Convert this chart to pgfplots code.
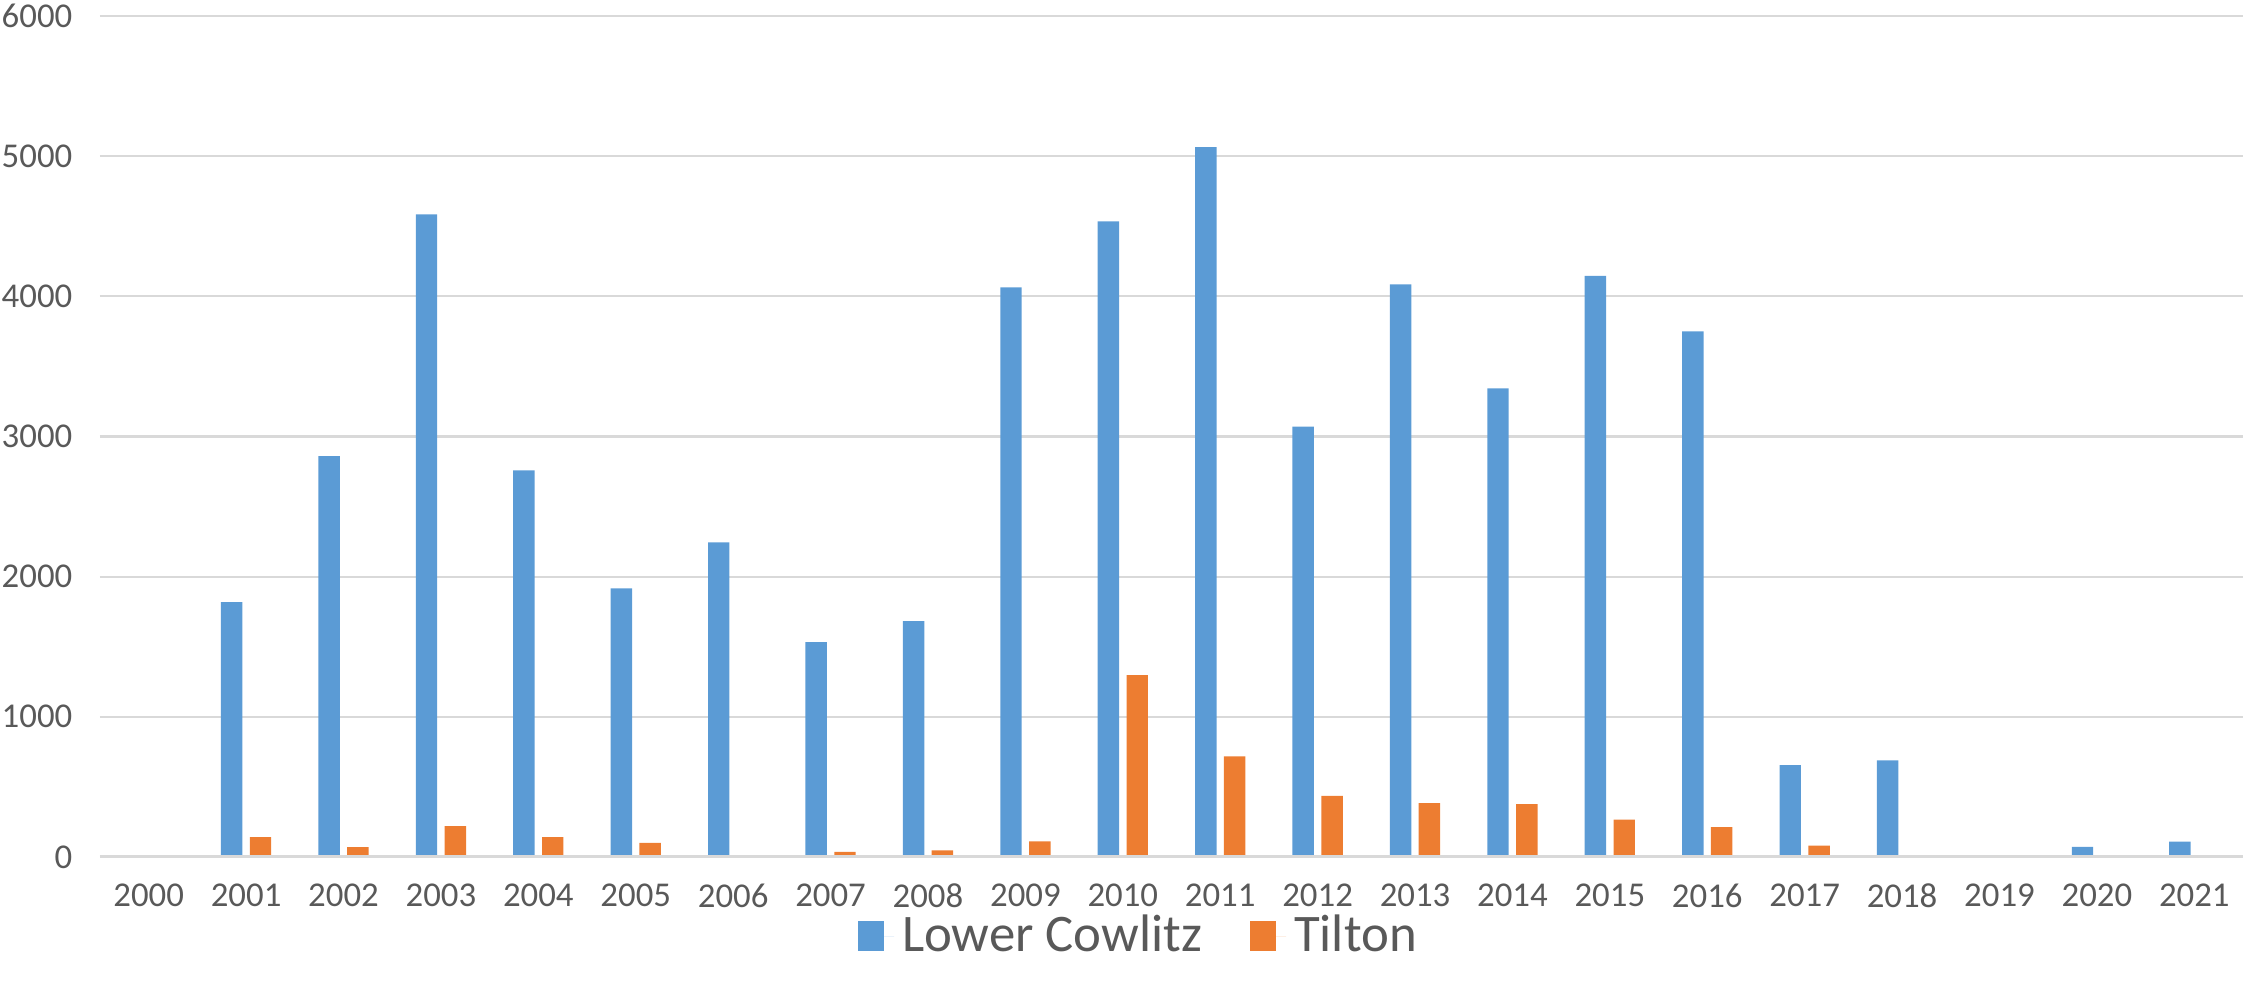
\documentclass[border=0pt]{standalone}
\usepackage{fontspec}
\setmainfont{Carlito}
\usepackage{pgfplots}
\usepackage{pgfplotstable}
\pgfplotsset{compat=1.18}

\definecolor{lcblue}{HTML}{5B9BD5}
\definecolor{tiorange}{HTML}{ED7D31}
\definecolor{gridgray}{HTML}{D9D9D9}
\definecolor{textgray}{HTML}{595959}

% year index, Lower Cowlitz, Tilton
\pgfplotstableread{
x  year lower tilton
0  2000 0    8
1  2001 1818 142
2  2002 2860 71
3  2003 4583 221
4  2004 2758 142
5  2005 1917 100
6  2006 2245 0
7  2007 1532 36
8  2008 1682 48
9  2009 4063 112
10 2010 4533 1297
11 2011 5063 718
12 2012 3070 437
13 2013 4084 385
14 2014 3343 378
15 2015 4146 266
16 2016 3749 214
17 2017 656  81
18 2018 689  5
19 2019 10   8
20 2020 73   0
21 2021 109  0
}\counts

\begin{document}
\begin{tikzpicture}
\useasboundingbox (-25pt,-35.75pt) rectangle (536.75pt,214.25pt);
\begin{axis}[
    at={(0,0)}, anchor=south west,
    scale only axis,
    width=535.75pt, height=210.3pt,
    ybar, bar width=0.22,
    xmin=-0.5, xmax=21.5,
    ymin=0, ymax=6000,
    xtick=data,
    xticklabels={2000,2001,2002,2003,2004,2005,2006,2007,2008,2009,2010,
      2011,2012,2013,2014,2015,2016,2017,2018,2019,2020,2021},
    ytick={0,1000,...,6000},
    axis line style={draw=none},
    xtick pos=bottom, ytick pos=left,
    ymajorgrids, grid style={gridgray, line width=0.55pt},
    major tick length=0pt,
    tick label style={font=\fontsize{8.7}{10}\selectfont, text=textgray},
    /pgf/number format/assume math mode=true,
    /pgf/number format/1000 sep={},
    yticklabel style={xshift=-3.4pt},
    xticklabel style={yshift=-3.2pt, text depth=0pt},
    legend columns=2,
    legend style={draw=none, fill=none, at={(0.486,-0.094)}, anchor=center,
      font=\fontsize{13.2}{15}\selectfont, text=textgray},
    legend image code/.code={\fill[#1] (0pt,-3.75pt) rectangle (6.5pt,3.75pt);
      \path (0pt,0pt) -- (9pt,0pt);},
]
\addplot[fill=lcblue, draw=none, bar shift=-0.148] table[x=x, y=lower] {\counts};
\addlegendentry{Lower Cowlitz\hspace*{10pt}}
\addplot[fill=tiorange, draw=none, bar shift=0.148] table[x=x, y=tilton] {\counts};
\addlegendentry{Tilton}
\draw[gridgray, line width=0.8pt] (axis cs:-0.5,0) -- (axis cs:21.5,0);
\end{axis}
\end{tikzpicture}
\end{document}
